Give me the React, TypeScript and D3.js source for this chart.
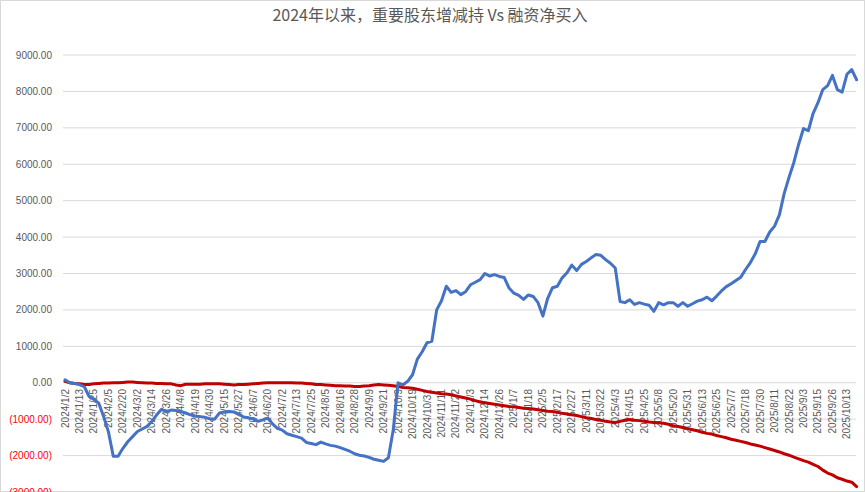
import React from "react";
import * as d3 from "d3";

const tickLabels: string[] = [
  "2024/1/2", "2024/1/13", "2024/1/25", "2024/2/5", "2024/2/20", "2024/3/2", "2024/3/14", "2024/3/26",
  "2024/4/8", "2024/4/19", "2024/4/30", "2024/5/15", "2024/5/27", "2024/6/7", "2024/6/20", "2024/7/2",
  "2024/7/13", "2024/7/25", "2024/8/5", "2024/8/16", "2024/8/28", "2024/9/9", "2024/9/21", "2024/10/9",
  "2024/10/19", "2024/10/31", "2024/11/11", "2024/11/22", "2024/12/3", "2024/12/14", "2024/12/26",
  "2025/1/7", "2025/1/18", "2025/2/5", "2025/2/17", "2025/2/27", "2025/3/11", "2025/3/22", "2025/4/3",
  "2025/4/15", "2025/4/25", "2025/5/8", "2025/5/20", "2025/5/31", "2025/6/13", "2025/6/25", "2025/7/7",
  "2025/7/18", "2025/7/30", "2025/8/11", "2025/8/22", "2025/9/3", "2025/9/15", "2025/9/26", "2025/10/13",
];

// 融资净买入 (blue), sampled three points per tick label
const marginNetBuy: number[] = [
  80, 0, -20, -50, -110, -380, -460, -560, -930, -1350,
  -2020, -2020, -1800, -1620, -1480, -1340, -1270, -1200, -1060, -880,
  -730, -790, -750, -760, -790, -830, -880, -920, -930, -950,
  -990, -1000, -830, -800, -790, -800, -860, -940, -960, -1000,
  -1060, -1020, -970, -1130, -1250, -1300, -1400, -1440, -1480, -1520,
  -1640, -1670, -1700, -1630, -1680, -1720, -1740, -1780, -1830, -1880,
  -1950, -1990, -2010, -2050, -2100, -2130, -2160, -2060, -1300, 0,
  -60, 40, 220, 650, 850, 1100, 1140, 2000, 2250, 2650,
  2480, 2530, 2420, 2500, 2690, 2760, 2830, 3000, 2930, 2970,
  2920, 2890, 2600, 2460, 2400, 2290, 2410, 2370, 2200, 1830,
  2320, 2610, 2650, 2880, 3020, 3230, 3080, 3250, 3330, 3430,
  3520, 3500, 3380, 3280, 3150, 2230, 2200, 2280, 2150, 2200,
  2160, 2130, 1960, 2200, 2140, 2200, 2200, 2100, 2200, 2100,
  2170, 2240, 2280, 2350, 2250, 2380, 2520, 2640, 2720, 2810,
  2900, 3110, 3300, 3540, 3880, 3880, 4140, 4300, 4610, 5200,
  5640, 6050, 6550, 6980, 6920, 7400, 7690, 8050, 8160, 8440,
  8050, 7980, 8470, 8600, 8320,
];

// 重要股东增减持 (red), sampled three points per tick label
const holderNetChange: number[] = [
  40, 0, -20, -30, -50, -50, -30, -20, -10, -10,
  0, 0, 10, 20, 20, 10, 0, -10, -10, -20,
  -20, -30, -30, -60, -80, -40, -40, -40, -40, -30,
  -30, -30, -30, -40, -50, -60, -50, -50, -40, -30,
  -20, -10, 0, 0, 0, 0, 0, 0, -10, -10,
  -20, -30, -50, -50, -60, -70, -80, -80, -90, -90,
  -100, -100, -90, -80, -60, -50, -60, -70, -80, -100,
  -130, -140, -150, -180, -210, -240, -260, -280, -300, -310,
  -330, -360, -390, -420, -450, -490, -530, -550, -570, -590,
  -610, -630, -650, -660, -680, -700, -710, -720, -740, -760,
  -780, -790, -810, -840, -860, -880, -900, -930, -960, -980,
  -1010, -1030, -1060, -1080, -1090, -1060, -1030, -1010, -1030, -1040,
  -1060, -1080, -1090, -1100, -1110, -1140, -1180, -1200, -1230, -1260,
  -1290, -1320, -1360, -1390, -1410, -1450, -1480, -1510, -1550, -1580,
  -1610, -1640, -1680, -1710, -1740, -1780, -1820, -1860, -1900, -1950,
  -1990, -2040, -2090, -2140, -2180, -2240, -2300, -2400, -2480, -2530,
  -2610, -2650, -2700, -2730, -2850,
];

const yTicks: number[] = [9000, 8000, 7000, 6000, 5000, 4000, 3000, 2000, 1000, 0, -1000, -2000, -3000];

const W = 865;
const H = 492;
const titleText = "2024年以来，重要股东增减持 Vs 融资净买入";

function fmt(v: number): string {
  const s = Math.abs(v).toFixed(2);
  return v < 0 ? `(${s})` : s;
}

export default function App() {
  const n = marginNetBuy.length;
  const x = d3.scaleLinear().domain([0, n - 1]).range([65, 856.6]);
  const y = d3.scaleLinear().domain([-3000, 9000]).range([492, 55]);
  const line = d3
    .line<number>()
    .x((_, i) => x(i))
    .y((d) => y(d))
    .curve(d3.curveLinear);

  const font = "'Liberation Sans', Arial, sans-serif";

  return (
    <svg
      width={W}
      height={H}
      style={{ position: "absolute", left: 0, top: 0, background: "#fff" }}
    >
      <rect x={0.5} y={0.5} width={W - 1} height={H - 1} fill="#fff" stroke="#d9d9d9" />
      <text
        x={430}
        y={21}
        textAnchor="middle"
        fontSize={16}
        fill="#595959"
        fontFamily="'Noto Sans CJK SC', 'Noto Sans', sans-serif"
      >
        {titleText}
      </text>
      <g>
        {yTicks.map((t) => (
          <g key={t}>
            <line x1={63} x2={856} y1={y(t)} y2={y(t)} stroke="#d9d9d9" strokeWidth={1} />
            <text
              x={52}
              y={y(t)}
              dy="0.35em"
              textAnchor="end"
              fontSize={10}
              fontFamily={font}
              fill={t < 0 ? "#ff0000" : "#595959"}
            >
              {fmt(t)}
            </text>
          </g>
        ))}
      </g>
      <g>
        {tickLabels.map((lab, i) => {
          const px = x(i * 3);
          return (
            <text
              key={lab}
              transform={`translate(${px},389) rotate(-90)`}
              dy="0.35em"
              textAnchor="end"
              fontSize={10}
              fontFamily={font}
              fill="#595959"
            >
              {lab}
            </text>
          );
        })}
      </g>
      <path
        d={line(holderNetChange) || ""}
        fill="none"
        stroke="#c00000"
        strokeWidth={3}
        strokeLinejoin="round"
        strokeLinecap="round"
      />
      <path
        d={line(marginNetBuy) || ""}
        fill="none"
        stroke="#4472c4"
        strokeWidth={3}
        strokeLinejoin="round"
        strokeLinecap="round"
      />
    </svg>
  );
}
